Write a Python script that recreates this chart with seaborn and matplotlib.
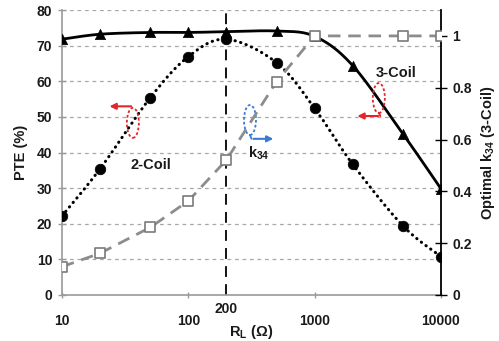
import numpy as np
import pandas as pd
import matplotlib
matplotlib.use("Agg")
import matplotlib.pyplot as plt
import matplotlib.transforms as mtransforms
from matplotlib.patches import Ellipse, FancyArrowPatch
import seaborn as sns

# ---- data ----
rl_3coil = [10, 20, 50, 100, 200, 500, 1000, 2000, 5000, 10000]
pte_3coil = [71.8, 73.2, 73.7, 73.7, 73.9, 74.1, 72.6, 64.4, 45.2, 29.8]

rl_2coil = [10, 20, 50, 100, 200, 500, 1000, 2000, 5000, 10000]
pte_2coil = [22.2, 35.4, 55.4, 66.9, 71.8, 65.2, 52.4, 36.7, 19.4, 10.8]

rl_k34 = [10, 20, 50, 100, 200, 500, 1000, 5000, 10000]
k34 = [0.109, 0.161, 0.261, 0.363, 0.521, 0.824, 1.0, 1.0, 1.0]

x_ticks = [10, 100, 1000, 10000]
x_tick_labels = ["10", "100", "1000", "10000"]
left_ticks = [0, 10, 20, 30, 40, 50, 60, 70, 80]
right_ticks = [0, 0.2, 0.4, 0.6, 0.8, 1.0]
right_tick_labels = ["0", "0.2", "0.4", "0.6", "0.8", "1"]
marker_rl = 200


def smooth(xs, ys, n=40):
    """Excel-like smoothed line (uniform Catmull-Rom) in log-x space."""
    P = np.column_stack([np.log10(xs), ys]).astype(float)
    P = np.vstack([P[0], P, P[-1]])
    out = []
    t = np.linspace(0, 1, n)[:, None]
    for i in range(1, len(P) - 2):
        p0, p1, p2, p3 = P[i - 1], P[i], P[i + 1], P[i + 2]
        seg = 0.5 * ((2 * p1) + (-p0 + p2) * t + (2 * p0 - 5 * p1 + 4 * p2 - p3) * t ** 2
                     + (-p0 + 3 * p1 - 3 * p2 + p3) * t ** 3)
        out.append(seg)
    S = np.vstack(out)
    return pd.DataFrame({"x": 10 ** S[:, 0], "y": S[:, 1]})


sns.set_theme(style="white")
plt.rcParams["font.family"] = ["Liberation Sans", "DejaVu Sans"]
plt.rcParams["font.weight"] = "bold"

fig = plt.figure(figsize=(4.99, 3.41), dpi=100)
ax = fig.add_axes([62 / 499, 1 - 295 / 341, (441 - 62) / 499, (295 - 10) / 341])
ax2 = ax.twinx()

ax.set_xscale("log")
ax.set_xlim(10, 10000)
ax.set_ylim(0, 80)
ax2.set_ylim(0, 1.1)

# grid lines
for v in left_ticks[1:]:
    ax.axhline(v, color="#a8a8a8", lw=0.9, ls=(0, (3, 3)), zorder=0)

# vertical marker at 200 ohm
ax.axvline(marker_rl, color="black", lw=1.3, ls=(0, (6, 4)), zorder=1)

# 3-coil
df3 = smooth(rl_3coil, pte_3coil)
sns.lineplot(data=df3, x="x", y="y", ax=ax, color="black", lw=2.0, sort=False,
             estimator=None, zorder=3)
sns.scatterplot(x=rl_3coil, y=pte_3coil, ax=ax, marker="^", s=55, color="black",
                edgecolor="black", linewidth=0.5, zorder=4)

# 2-coil
df2 = smooth(rl_2coil, pte_2coil)
sns.lineplot(data=df2, x="x", y="y", ax=ax, color="black", lw=2.2, sort=False,
             estimator=None, zorder=3)
ax.lines[-1].set_linestyle((0, (0.1, 1.8)))
ax.lines[-1].set_dash_capstyle("round")
sns.scatterplot(x=rl_2coil, y=pte_2coil, ax=ax, marker="o", s=58, color="black",
                edgecolor="black", linewidth=0.5, zorder=4)

# k34 on right axis
dfk = pd.DataFrame({"x": rl_k34, "y": k34})
sns.lineplot(data=dfk, x="x", y="y", ax=ax2, color="#8c8c8c", lw=2.0, sort=False,
             estimator=None, zorder=3)
ax2.lines[-1].set_linestyle((0, (4.5, 2.8)))
sns.scatterplot(data=dfk, x="x", y="y", ax=ax2, marker="s", s=50, color="white",
                edgecolor="#7a7a7a", linewidth=1.2, zorder=5)
ax2.set_xlim(10, 10000)
ax2.set_xlabel("")

# spines
ax.spines["top"].set_visible(False)
ax2.spines["top"].set_visible(False)
ax.spines["left"].set_color("#9a9a9a")
ax.spines["bottom"].set_color("#9a9a9a")
ax.spines["left"].set_linewidth(1.2)
ax.spines["bottom"].set_linewidth(1.2)
ax.spines["right"].set_visible(False)
ax2.spines["left"].set_visible(False)
ax2.spines["bottom"].set_visible(False)
ax2.spines["right"].set_color("black")
ax2.spines["right"].set_linewidth(1.3)

# ticks
tickfont = dict(fontsize=10, fontweight="bold", color="#1a1a1a")
ax.set_xticks(x_ticks)
ax.set_xticklabels(x_tick_labels, **tickfont)
ax.xaxis.set_minor_locator(matplotlib.ticker.NullLocator())
ax.tick_params(axis="x", direction="inout", length=5, width=1, color="#9a9a9a", pad=11,
               bottom=True, labelbottom=True)
ax.set_yticks(left_ticks)
ax.set_yticklabels([str(v) for v in left_ticks], **tickfont)
ax.tick_params(axis="y", direction="inout", length=6, width=1, color="#9a9a9a", pad=4, left=True)
ax2.set_yticks(right_ticks)
ax2.set_yticklabels(right_tick_labels, **tickfont)
ax2.tick_params(axis="y", direction="inout", length=8, width=1, color="black", pad=4, right=True)

# 200 label above axis labels
trans = mtransforms.blended_transform_factory(ax.transData, ax.transAxes)
ax.text(marker_rl, -0.025, "200", transform=trans, ha="center", va="top", **tickfont)

ax.set_xlabel("R$_\\mathregular{L}$ (Ω)", fontsize=10.5, fontweight="bold", color="#1a1a1a", labelpad=-3.5)
ax.set_ylabel("PTE (%)", fontsize=10.5, fontweight="bold", color="#1a1a1a", labelpad=6)
ax2.set_ylabel("Optimal k$_{\\mathregular{34}}$ (3-Coil)", fontsize=10.5, fontweight="bold",
               color="#1a1a1a", labelpad=5)

# annotations
labfont = dict(fontsize=10.5, fontweight="bold", color="#1a1a1a", ha="center", va="center")
ax.text(50.6, 36.5, "2-Coil", **labfont)
ax.text(4400, 62.3, "3-Coil", **labfont)
ax.text(362, 39.9, "k$_{\\mathregular{34}}$", **labfont)

red = "#e3262b"
blue = "#3a7bd5"
W, H = 12 / 379, 30 / 285
for (cx, cy, col) in [(0.187, 0.604, red), (0.496, 0.614, blue), (0.836, 0.691, red)]:
    ax.add_patch(Ellipse((cx, cy), W, H, transform=ax.transAxes, fill=False,
                         edgecolor=col, lw=1.3, ls=(0, (1.5, 1.2)), zorder=6))

def arrow(p0, p1, col):
    ax.add_patch(FancyArrowPatch(p0, p1, transform=ax.transAxes, arrowstyle="-|>",
                                 mutation_scale=9, color=col, lw=1.5, zorder=6))

arrow((0.190, 0.662), (0.118, 0.662), red)
ax.plot([0.496, 0.500], [0.562, 0.548], transform=ax.transAxes, color=blue, lw=1.3, zorder=6)
arrow((0.498, 0.548), (0.565, 0.548), blue)
ax.plot([0.836, 0.840], [0.640, 0.628], transform=ax.transAxes, color=red, lw=1.3, zorder=6)
arrow((0.842, 0.628), (0.772, 0.628), red)

fig.savefig("out.png", dpi=100)
